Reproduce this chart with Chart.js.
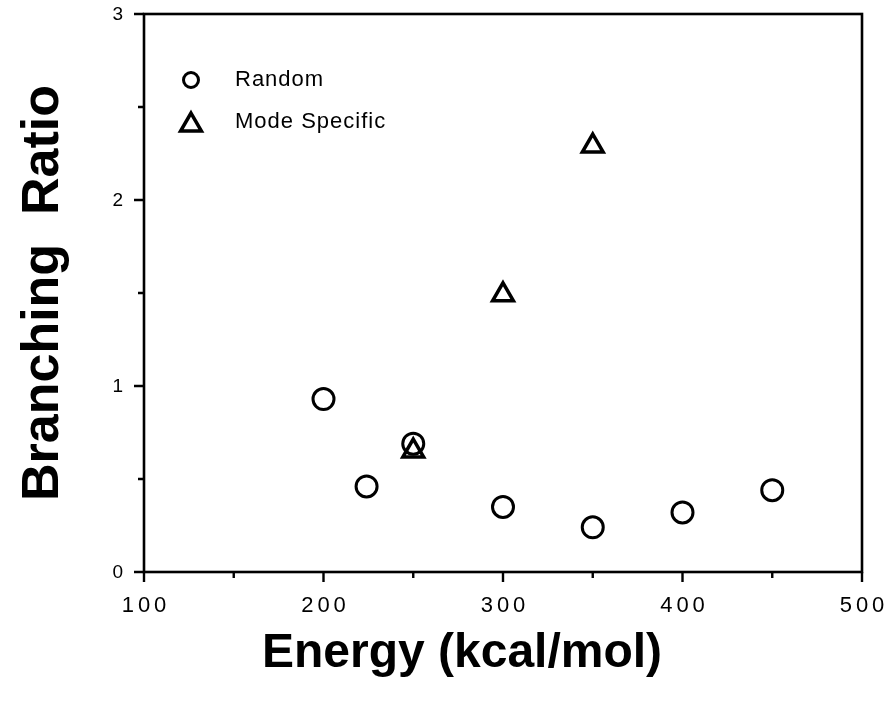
<!DOCTYPE html>
<html>
<head>
<meta charset="utf-8">
<script src="https://cdn.jsdelivr.net/npm/chart.js@4.4.1/dist/chart.umd.min.js"></script>
<style>
    html, body {
        margin: 0;
        padding: 0;
        background: #ffffff;
    }

    #wrap {
        width: 892px;
        height: 702px;
    }
</style>
</head>
<body>
<div id="wrap">
    <canvas id="branchChart" width="892" height="702"></canvas>
</div>
<script>

/* =========================
DATA
========================= */

const randomEnergy = [200, 224, 250, 300, 350, 400, 450];
const randomRatio = [0.93, 0.46, 0.69, 0.35, 0.24, 0.32, 0.44];

const modeEnergy = [250, 300, 350];
const modeRatio = [0.65, 1.49, 2.29];

const xTicks = [100, 200, 300, 400, 500];
const xMinorTicks = [150, 250, 350, 450];

const yTicks = [0, 1, 2, 3];
const yMinorTicks = [0.5, 1.5, 2.5];

const seriesNames = ["Random", "Mode Specific"];

const xTitle = "Energy (kcal/mol)";

const FONT = "'Liberation Sans', Arial, Helvetica, sans-serif";

/* =========================
FRAME + TICKS + LEGEND
========================= */

const framePlugin = {

    id: "frame",

    afterDraw(chart) {

        const ctx = chart.ctx;
        const area = chart.chartArea;
        const xs = chart.scales.x;
        const ys = chart.scales.y;

        ctx.save();

        ctx.strokeStyle = "#000000";
        ctx.lineWidth = 2.6;
        ctx.strokeRect(area.left, area.top, area.right - area.left, area.bottom - area.top);

        // x ticks, pointing down
        ctx.lineWidth = 2.4;
        ctx.beginPath();
        xTicks.forEach(v => {
            const px = xs.getPixelForValue(v);
            ctx.moveTo(px, area.bottom);
            ctx.lineTo(px, area.bottom + 10);
        });
        xMinorTicks.forEach(v => {
            const px = xs.getPixelForValue(v);
            ctx.moveTo(px, area.bottom);
            ctx.lineTo(px, area.bottom + 6);
        });

        // y ticks, pointing left
        yTicks.forEach(v => {
            const py = ys.getPixelForValue(v);
            ctx.moveTo(area.left, py);
            ctx.lineTo(area.left - 10, py);
        });
        yMinorTicks.forEach(v => {
            const py = ys.getPixelForValue(v);
            ctx.moveTo(area.left, py);
            ctx.lineTo(area.left - 6, py);
        });
        ctx.stroke();

        ctx.fillStyle = "#000000";

        // y tick labels
        ctx.font = "19px " + FONT;
        ctx.textAlign = "right";
        ctx.textBaseline = "middle";
        yTicks.forEach(v => {
            ctx.fillText(String(v), area.left - 21, ys.getPixelForValue(v) + 1);
        });

        // x tick labels, spaced out like the original
        const spacing = 4;
        ctx.font = "22px " + FONT;
        ctx.textAlign = "center";
        if ("letterSpacing" in ctx)
            ctx.letterSpacing = spacing + "px";
        xTicks.forEach(v => {
            ctx.fillText(String(v), xs.getPixelForValue(v) + spacing / 2, area.bottom + 34);
        });
        if ("letterSpacing" in ctx)
            ctx.letterSpacing = "0px";

        // x axis title, sits left of the plot centre in the original
        ctx.font = "bold 48px " + FONT;
        ctx.textAlign = "center";
        ctx.textBaseline = "alphabetic";
        ctx.fillText(xTitle, 462, 667);

        // legend inside the plot
        const markers = [
            { style: "circle", radius: 7.5, width: 3 },
            { style: "triangle", radius: 12, width: 3.5 }
        ];
        const legendX = area.left + 47;
        const legendY = [area.top + 66, area.top + 108];

        ctx.font = "22px " + FONT;
        ctx.textAlign = "left";
        ctx.textBaseline = "middle";
        if ("letterSpacing" in ctx)
            ctx.letterSpacing = "1px";

        seriesNames.forEach((name, i) => {
            ctx.strokeStyle = "#000000";
            ctx.fillStyle = "rgba(0,0,0,0)";
            ctx.lineWidth = markers[i].width;
            Chart.helpers.drawPoint(ctx, {
                pointStyle: markers[i].style,
                radius: markers[i].radius,
                rotation: 0,
                borderWidth: markers[i].width
            }, legendX, legendY[i] + (i === 1 ? 3 : 0));
            ctx.fillStyle = "#000000";
            ctx.fillText(name, area.left + 91, legendY[i]);
        });

        ctx.restore();

    }

};

/* =========================
CHART
========================= */

const canvas = document.getElementById("branchChart");

const branchChart = new Chart(canvas, {

    type: "scatter",

    data: {

        datasets: [

            {
                label: seriesNames[0],
                data: randomEnergy.map((e, i) => ({ x: e, y: randomRatio[i] })),
                pointStyle: "circle",
                pointRadius: 10.5,
                pointHoverRadius: 10.5,
                borderWidth: 3,
                borderColor: "#000000",
                backgroundColor: "rgba(0,0,0,0)"
            },

            {
                label: seriesNames[1],
                data: modeEnergy.map((e, i) => ({ x: e, y: modeRatio[i] })),
                pointStyle: "triangle",
                pointRadius: 12,
                pointHoverRadius: 12,
                borderWidth: 3.5,
                borderColor: "#000000",
                backgroundColor: "rgba(0,0,0,0)"
            }

        ]

    },

    options: {

        responsive: false,
        animation: false,
        events: [],

        layout: {
            autoPadding: false,
            padding: { top: 14, right: 30, left: 0, bottom: 0 }
        },

        plugins: {
            legend: { display: false },
            tooltip: { enabled: false }
        },

        scales: {

            x: {
                type: "linear",
                min: 100,
                max: 500,
                afterBuildTicks: scale => {
                    scale.ticks = xTicks.map(v => ({ value: v }));
                },
                afterFit: scale => {
                    scale.height = 130;
                },
                grid: { display: false, drawTicks: false },
                border: { display: false },
                ticks: { display: false }
            },

            y: {
                type: "linear",
                min: 0,
                max: 3,
                afterBuildTicks: scale => {
                    scale.ticks = yTicks.map(v => ({ value: v }));
                },
                afterFit: scale => {
                    scale.width = 144;
                },
                grid: { display: false, drawTicks: false },
                border: { display: false },
                ticks: { display: false },
                title: {
                    display: true,
                    text: "Branching  Ratio",
                    color: "#000000",
                    font: { family: FONT, size: 52, weight: "bold", lineHeight: 1 },
                    padding: { top: 18, bottom: 0 }
                }
            }

        }

    },

    plugins: [framePlugin]

});

</script>
</body>
</html>
